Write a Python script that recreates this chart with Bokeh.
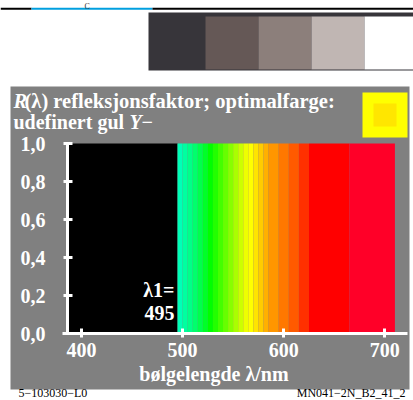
from bokeh.plotting import figure
from bokeh.models import Range1d, Label, CustomJSTickFormatter, FixedTicker
from bokeh.embed import file_html
from bokeh.resources import INLINE

# ---------------- data ----------------
x_axis_min, x_axis_max = 386.2, 722.5   # nm, extent of the wavelength axis
lambda1 = 495                           # nm, edge of the optimal colour (R=0 below)
black_height = 1.0
band_edges = [495, 500, 505, 510, 515, 520, 525, 530, 535, 540, 545, 550, 555,
              560, 565, 570, 575, 580, 585, 595, 605, 615, 625, 665, 710]
band_reflectance = [1.0, 1.0, 1.0, 1.0, 1.0, 1.0, 1.0, 1.0, 1.0, 1.0, 1.0, 1.0,
                    1.0, 1.0, 1.0, 1.0, 1.0, 1.0, 1.0, 1.0, 1.0, 1.0, 1.0, 1.0]
band_colors = ["#00ffb8", "#00ffa0", "#00ff88", "#00ff6c", "#00ff4c", "#00ff28",
               "#00ff00", "#22ff00", "#44ff00", "#66ff00", "#88ff00", "#aaff00",
               "#ccff00", "#eeff00", "#ffff00", "#ffe400", "#ffcc00", "#ffb000",
               "#ff9600", "#ff7800", "#ff5a00", "#ff3000", "#ff0000", "#ff0028"]
x_ticks = [400, 500, 600, 700]
y_ticks = [0.0, 0.2, 0.4, 0.6, 0.8, 1.0]
grey_patch_colors = ["#37353a", "#655856", "#8c7f7b", "#c0b6b3", "#ffffff"]
sample_colors = ["#ffff00", "#ffe600"]

title_line1_it = "R"
title_line1 = "(λ) refleksjonsfaktor; optimalfarge:"
title_line2 = "udefinert gul"
title_line2_it = "Y"
title_line2_end = "−"
x_label = "bølgelengde λ/nm"
lambda_label = "λ1="
footer_left = "5−103030−L0"
footer_right = "MN041−2N_B2_41_2"

# ---------------- layout (page pixels) ----------------
W, H = 413, 400
PX_400, PX_PER_NM = 81.0, 1.011     # x pixel of 400 nm, pixels per nm
PY_0, PX_PER_UNIT = 333.0, 190.0    # y pixel of R=0, pixels per unit R
FONT = "Liberation Serif"
GREY = "#808080"


def dx(px):
    return 400 + (px - PX_400) / PX_PER_NM


def dy(py):
    return (PY_0 - py) / PX_PER_UNIT


p = figure(width=W, height=H, x_range=Range1d(dx(0), dx(W)), y_range=Range1d(dy(H), dy(0)),
           output_backend="svg", toolbar_location=None, title=None, min_border=0)
p.border_fill_color = "white"
p.background_fill_color = "white"
p.outline_line_color = None
p.xgrid.visible = False
p.ygrid.visible = False


def rects(l, t, r, b, colors):
    p.quad(left=[dx(v) for v in l], right=[dx(v) for v in r],
           top=[dy(v) for v in t], bottom=[dy(v) for v in b],
           fill_color=colors, line_color=None)


# grey panel
rects([10], [86], [409], [389], [GREY])
# top strip
rects([0, 31, 152], [7.3] * 3, [31, 152, 413], [9.3] * 3, ["black", "#009fdf", "black"])
rects([148], [12], [413], [70], grey_patch_colors[:1])
rects([205, 258, 311, 364], [16] * 4, [258, 311, 364, 413], [69] * 4, grey_patch_colors[1:])
# yellow sample square
rects([362, 373], [92, 103], [407, 396], [137, 126], sample_colors)

# ---------------- data marks ----------------
p.quad(left=[x_axis_min], right=[lambda1], bottom=[0], top=[black_height],
       fill_color="black", line_color=None)
p.quad(left=band_edges[:-1], right=band_edges[1:], bottom=[0] * len(band_colors),
       top=band_reflectance, fill_color=band_colors, line_color=None)

# ---------------- axes ----------------
for ax in (p.xaxis, p.yaxis):
    ax.axis_line_color = "white"
    ax.axis_line_width = 3
    ax.major_tick_line_color = "white"
    ax.major_tick_line_width = 3
    ax.major_tick_in = 5
    ax.major_tick_out = 4
    ax.minor_tick_line_color = None
    ax.major_label_text_color = "white"
    ax.major_label_text_font = FONT
    ax.major_label_text_font_style = "bold"
    ax.major_label_text_font_size = "20px"
p.xaxis.ticker = FixedTicker(ticks=x_ticks)
p.yaxis.ticker = FixedTicker(ticks=y_ticks)
p.xaxis.fixed_location = 0
p.yaxis.fixed_location = x_axis_min
p.xaxis.bounds = (dx(62), x_axis_max)
p.yaxis.bounds = (0, 1)
p.yaxis.formatter = CustomJSTickFormatter(code="return tick.toFixed(1).replace('.', ',')")
p.xaxis.major_label_standoff = 5
p.yaxis.major_label_standoff = 18


def label(px, py, text, size="20px", style="bold", align="left", color="white"):
    p.add_layout(Label(x=dx(px), y=dy(py), text=text, text_font=FONT,
                       text_font_size=size, text_font_style=style,
                       text_color=color, text_align=align,
                       text_baseline="alphabetic"))


label(13, 100, title_line1_it, size="20.5px", style="bold italic")
label(24, 100, title_line1, size="20.5px")
label(13, 121, title_line2)
label(129, 121, title_line2_it, style="bold italic")
label(141, 121, title_line2_end)
label(213.5, 373, x_label, align="center")
label(174, 289, lambda_label, align="right")
label(174, 312, str(lambda1), align="right")
label(18, 392.5, footer_left, size="12px", style="normal", color="black")
label(405, 392.5, footer_right, size="12px", style="normal", align="right", color="black")
label(84, 5.5, "C", size="8px", style="normal", color="#333333")

open("out.html", "w").write(file_html(p, INLINE))
